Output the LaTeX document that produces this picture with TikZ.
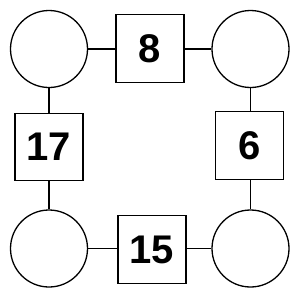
\documentclass[tikz,border=0pt]{standalone}
\usepackage{fontspec}
\setmainfont{Liberation Sans}
\begin{document}
\begin{tikzpicture}[x=1pt,y=-1pt,
  circ/.style={draw,line width=1.3pt,circle,minimum size=77pt,inner sep=0pt},
  sq/.style={draw,line width=1.3pt,rectangle,minimum width=68pt,minimum height=67.5pt,inner sep=0pt,font=\fontsize{40}{40}\selectfont\bfseries},
  conn/.style={line width=1.3pt}]
\useasboundingbox (0,0) rectangle (300,300);
\node[circ] (tl) at (49,49) {};
\node[circ] (tr) at (250.5,49) {};
\node[circ] (bl) at (49,248.5) {};
\node[circ] (br) at (250.5,248.5) {};
\node[sq] (top) at (150,48.5) {8};
\node[sq] (left) at (49,147) {17};
\node[sq] (right) at (249.5,145.5) {6};
\node[sq] (bot) at (152,249.5) {15};
\draw[conn] (tl) -- (tl -| top.west);
\draw[conn] (top.east |- tr) -- (tr);
\draw[conn] (tl) -- (tl |- left.north);
\draw[conn] (left.south -| bl) -- (bl);
\draw[conn] (tr) -- (tr |- right.north);
\draw[conn] (right.south -| br) -- (br);
\draw[conn] (bl) -- (bl -| bot.west);
\draw[conn] (bot.east |- br) -- (br);
\end{tikzpicture}
\end{document}
